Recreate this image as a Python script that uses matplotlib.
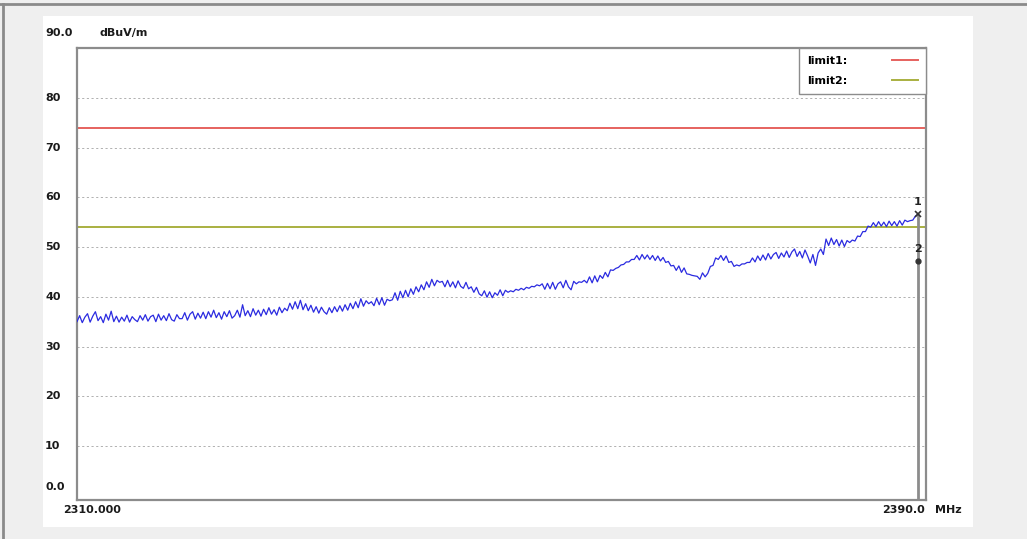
import numpy as np
import matplotlib
matplotlib.use("Agg")
import matplotlib.pyplot as plt
from matplotlib.lines import Line2D
from matplotlib.patches import Rectangle
from matplotlib.transforms import blended_transform_factory

# ---- sweep data: 2310-2390 MHz, 0.25 MHz step, level in dBuV/m ----
f_start, f_stop = 2310.0, 2390.0
level_dbuv = [
    # 2310 - 2320
    35.0, 36.2, 34.8, 35.9, 36.6, 34.9, 36.1, 37.0, 35.2, 36.0,
    34.8, 36.5, 35.3, 37.1, 35.0, 36.1, 34.9, 35.9, 35.1, 36.3,
    34.9, 36.0, 35.4, 35.0, 36.2, 35.3, 36.4, 35.1, 36.0, 36.3,
    35.0, 36.5, 35.3, 36.2, 35.2, 36.6, 35.4, 35.1, 36.4, 35.6,
    # 2320 - 2330
    35.6, 36.8, 35.3, 36.5, 37.0, 35.5, 36.7, 35.7, 36.9, 35.6,
    37.0, 35.9, 37.3, 35.8, 36.8, 35.5, 37.0, 36.0, 37.2, 35.7,
    36.2, 37.3, 35.9, 38.4, 36.2, 37.2, 36.0, 37.6, 36.3, 37.3,
    36.1, 37.5, 36.4, 37.8, 36.5, 37.4, 36.3, 37.9, 36.8, 37.7,
    # 2330 - 2340
    37.2, 38.7, 37.5, 39.0, 37.6, 39.3, 37.4, 38.6, 37.2, 38.3,
    36.9, 38.0, 36.7, 37.9, 37.0, 36.5, 37.8, 36.8, 38.0, 37.0,
    38.2, 37.1, 38.4, 37.3, 38.7, 37.6, 39.0, 37.8, 39.6, 38.1,
    39.2, 38.6, 39.0, 38.2, 39.7, 38.4, 39.8, 38.3, 39.5, 39.2,
    # 2340 - 2350
    39.4, 40.8, 39.3, 41.1, 39.8, 41.3, 40.0, 41.6, 40.5, 42.0,
    41.0, 42.4, 41.4, 43.0, 41.9, 43.5, 42.2, 43.3, 42.9, 43.1,
    42.0, 43.3, 42.0, 43.0, 41.8, 43.2, 42.1, 41.7, 42.9, 41.6,
    42.0, 40.9, 41.9, 40.6, 40.2, 41.2, 39.9, 41.0, 39.8, 40.8,
    # 2350 - 2360
    40.3, 41.4, 40.2, 41.3, 40.9, 41.2, 41.0, 41.5, 41.3, 41.7,
    41.4, 41.9, 41.7, 42.1, 42.0, 42.4, 42.2, 42.6, 41.5, 42.7,
    41.6, 42.9, 41.5, 42.6, 43.0, 41.8, 43.3, 42.0, 41.4, 43.1,
    42.6, 43.0, 42.9, 43.3, 42.8, 44.0, 42.8, 44.2, 43.0, 44.3,
    # 2360 - 2370
    43.7, 44.9, 44.0, 45.4, 45.3, 45.7, 45.9, 46.4, 46.5, 47.0,
    47.0, 47.5, 47.5, 48.3, 47.4, 48.5, 47.6, 48.4, 47.5, 48.3,
    47.3, 48.2, 47.2, 47.9, 46.9, 47.1, 46.2, 46.3, 45.3, 46.2,
    44.9, 45.8, 44.6, 44.5, 44.3, 44.2, 44.1, 43.5, 44.8, 44.0,
    # 2370 - 2380
    44.7, 46.1, 46.3, 47.8, 47.5, 48.3, 47.3, 48.2, 46.9, 47.1,
    46.1, 46.4, 46.2, 46.6, 46.6, 46.9, 46.9, 47.8, 47.0, 48.2,
    47.3, 48.4, 47.4, 48.7, 47.6, 48.5, 48.9, 47.7, 48.8, 48.0,
    49.2, 47.9, 49.0, 49.6, 48.1, 49.1, 47.8, 49.4, 48.2, 46.8,
    # 2380 - 2390
    48.5, 46.3, 48.8, 49.6, 48.5, 51.6, 50.3, 51.8, 50.5, 51.5,
    50.2, 51.4, 50.1, 51.3, 50.9, 51.4, 51.2, 52.2, 52.1, 53.1,
    53.1, 54.2, 54.0, 54.9, 54.1, 55.1, 54.2, 55.0, 54.1, 55.2,
    54.3, 55.1, 54.2, 55.3, 54.4, 55.4, 55.1, 55.3, 55.4, 56.2,
    56.6,
]
freq_mhz = np.linspace(f_start, f_stop, len(level_dbuv))

# limit lines
limit_names = ["limit1:", "limit2:"]
limit_values = [74.0, 54.0]
limit_colors = ["#e6625e", "#a9b040"]

# markers (peak / average at band edge)
marker_ids = ["1", "2"]
marker_freq = [2390.0, 2390.0]
marker_level = [56.6, 47.2]
marker_symbols = ["x", "o"]

# axis labels
ytick_values = [80, 70, 60, 50, 40, 30, 20, 10]
ytick_labels = ["80", "70", "60", "50", "40", "30", "20", "10"]
y_top_label = "90.0"
y_bottom_label = "0.0"
y_unit = "dBuV/m"
x_left_label = "2310.000"
x_right_label = "2390.0"
x_unit = "MHz"

# ---- figure ----
W, H, DPI = 1027, 539, 100
fig = plt.figure(figsize=(W / DPI, H / DPI), dpi=DPI)
fig.patch.set_facecolor("#efefef")

def fx(px):
    return px / W

def fy(py):
    return 1 - py / H

# white panel and window frame
panel = Rectangle((fx(43), fy(527)), fx(973 - 43), (527 - 16) / H,
                  transform=fig.transFigure, facecolor="white",
                  edgecolor="none", zorder=-5)
fig.add_artist(panel)
fig.add_artist(Line2D([0, 1], [fy(4), fy(4)], transform=fig.transFigure,
                      color="#8a8a8a", lw=2.0))
fig.add_artist(Line2D([fx(2.5), fx(2.5)], [0, fy(4)], transform=fig.transFigure,
                      color="#8a8a8a", lw=2.0))

ax = fig.add_axes([fx(77), fy(500), fx(926 - 77), (500 - 48) / H])
ax.set_zorder(1)
ax.set_facecolor("white")
ax.set_xlim(f_start, f_stop + 0.76)
ax.set_ylim(-0.85, 90)
for s in ax.spines.values():
    s.set_color("#8c8c8c")
    s.set_linewidth(1.6)
ax.set_xticks([])
ax.set_yticks([])

# dotted grid
for v in ytick_values:
    ax.axhline(v, color="#b0b0b0", lw=0.7, ls=(0, (2.2, 2.6)), zorder=1)

# limit lines
limit_handles = []
for name, val, col in zip(limit_names, limit_values, limit_colors):
    ln = ax.axhline(val, color=col, lw=1.4, zorder=2, label=name)
    limit_handles.append(ln)

# trace
ax.plot(freq_mhz, level_dbuv, color="#2b2be0", lw=0.9, zorder=3)

# marker line down from marker 1
ax.vlines(marker_freq[0], -0.85, marker_level[0], color="#8c8c8c", lw=2.0, zorder=4)

for mid, mf, ml, sym in zip(marker_ids, marker_freq, marker_level, marker_symbols):
    if sym == "x":
        ax.plot(mf, ml, marker="x", ms=5, mew=1.2, color="#333333", zorder=5)
    else:
        ax.plot(mf, ml, marker="o", ms=3.5, color="#333333", zorder=5)
    ax.annotate(mid, (mf, ml), xytext=(0, 5), textcoords="offset points",
                ha="center", va="bottom", fontsize=8, fontweight="bold",
                color="#222222", zorder=6)

font = dict(fontsize=8, fontweight="bold", color="#1a1a1a", family="DejaVu Sans")

# y labels
ylab_tr = blended_transform_factory(fig.transFigure, ax.transData)
for v, lab in zip(ytick_values, ytick_labels):
    fig.text(fx(45), v, lab, transform=ylab_tr, ha="left", va="center", **font)
fig.text(fx(45), fy(33), y_top_label, ha="left", va="center", **font)
fig.text(fx(100), fy(33), y_unit, ha="left", va="center", **font)
fig.text(fx(45), fy(487), y_bottom_label, ha="left", va="center", **font)

# x labels
fig.text(fx(63), fy(510), x_left_label, ha="left", va="center", **font)
fig.text(fx(925), fy(510), x_right_label, ha="right", va="center", **font)
fig.text(fx(935), fy(510), x_unit, ha="left", va="center", **font)

# legend box
leg = ax.legend(handles=limit_handles, loc="upper right", markerfirst=False,
                frameon=True, fancybox=False, framealpha=1, edgecolor="#8c8c8c",
                borderaxespad=0, borderpad=0.7, handlelength=2.4,
                handletextpad=4.0, labelspacing=0.9,
                prop=dict(size=8, weight="bold", family="DejaVu Sans"))
leg.get_frame().set_linewidth(1.0)
leg.set_zorder(7)

fig.savefig("out.png", dpi=DPI, facecolor=fig.get_facecolor())
